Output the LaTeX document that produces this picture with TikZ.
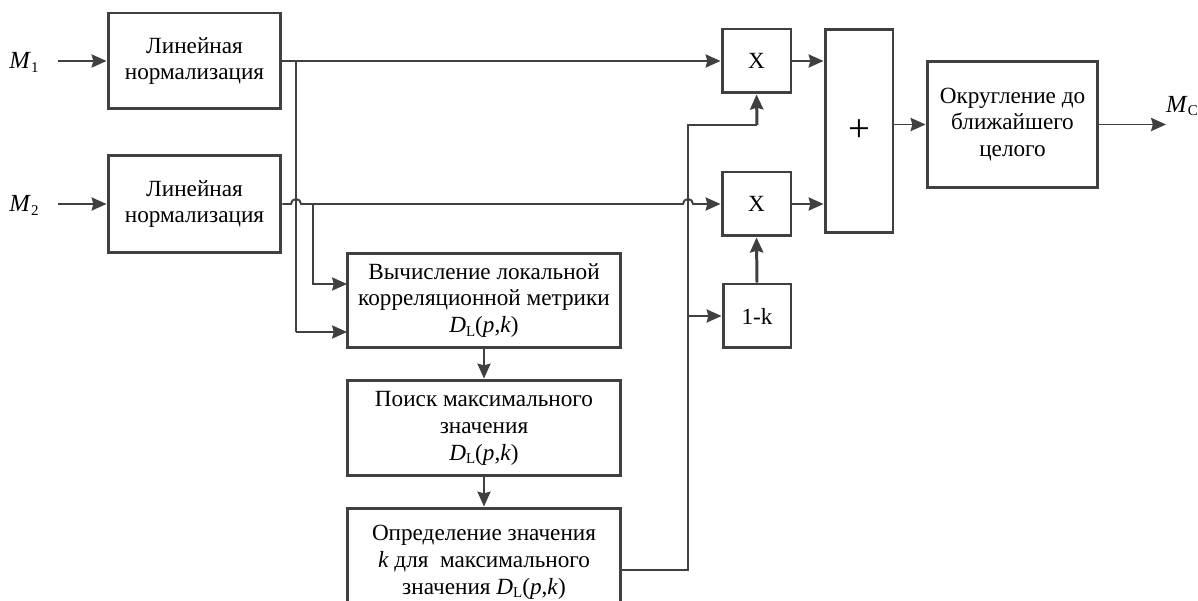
\documentclass[tikz,border=0pt]{standalone}
\usepackage{fontspec}
\setmainfont{Liberation Serif}
\usetikzlibrary{arrows.meta}
\definecolor{ln}{HTML}{404040}
\newcommand{\lsub}[1]{\raisebox{-0.35ex}{\fontsize{8.5}{9}\selectfont #1}}
\newcommand{\DL}{\textit{D}\lsub{L}(\textit{p},\textit{k})}
\tikzset{
  blk/.style={draw=ln, line width=1.7pt, fill=white, align=center, inner sep=0pt,
    font=\fontsize{13.2}{15.3}\selectfont},
  conn/.style={draw=ln, line width=1.1pt},
  arr/.style={conn, -{Stealth[length=8.5pt,width=7.5pt,inset=1pt]}},
  arrb/.style={draw=ln, line width=1.7pt, -{Stealth[length=8.5pt,width=7.5pt,inset=1pt]}},
  lbl/.style={font=\fontsize{14}{15}\selectfont, inner sep=0pt}
}
\begin{document}
\begin{tikzpicture}[x=0.02cm,y=-0.02cm]
\useasboundingbox (0,0) rectangle (1198,601);
\clip (0,0) rectangle (1198,601);
\fill[white] (0,0) rectangle (1198,601);
% blocks
\node[blk, minimum width=3.46cm, minimum height=1.92cm] (n1) at (194.5,61) {Линейная\\нормализация};
\node[blk, minimum width=3.46cm, minimum height=1.96cm] (n2) at (194.5,204) {Линейная\\нормализация};
\node[blk, minimum width=5.48cm, minimum height=1.90cm] (comp) at (484,300.5) {Вычисление локальной\\корреляционной метрики\\\DL};
\node[blk, minimum width=5.48cm, minimum height=1.92cm] (srch) at (484,428) {Поиск максимального\\значения\\\DL};
\node[blk, minimum width=5.48cm, minimum height=2.16cm] (kdet) at (484,562) {Определение значения\\\textit{k} для \ максимального\\значения \DL};
\node[blk, minimum width=1.38cm, minimum height=1.28cm] (x1) at (756.5,61) {X};
\node[blk, minimum width=1.38cm, minimum height=1.28cm] (x2) at (756.5,204) {X};
\node[blk, minimum width=1.36cm, minimum height=1.28cm] (onek) at (757,316) {1-k};
\node[blk, minimum width=1.36cm, minimum height=4.08cm, font=\fontsize{22}{22}\selectfont] (plus) at (859,131) {+};
\node[blk, minimum width=3.42cm, minimum height=2.54cm] (rnd) at (1012.5,124.5) {Округление до\\ближайшего\\целого};
% labels
\node[lbl] (m1) at (24,62) {\textit{M}\lsub{1}};
\node[lbl] (m2) at (24,205) {\textit{M}\lsub{2}};
\node[lbl] (mc) at (1182,106) {\textit{M}\lsub{C}};
% coordinates
\coordinate (m1s) at (58,61);
\coordinate (m2s) at (58,204);
\coordinate (mce) at (1166,124.5);
\coordinate (v1) at (296,61);
\coordinate (v1b) at (296,332);
\coordinate (c1) at (347,332);
\coordinate (b2) at (313,204);
\coordinate (c2) at (347,284);
\coordinate (h1) at (291,204);
\coordinate (h2) at (683,204);
\coordinate (k1) at (688,570);
\coordinate (k2) at (688,125);
\coordinate (k3) at (757,125);
\coordinate (kb) at (688,316);
% connectors
\draw[arr] (m1s) -- (n1.west);
\draw[arr] (m2s) -- (n2.west);
\draw[arr] (n1.east) -- (x1.west);
\draw[conn] (v1) -- (v1b);
\draw[arr] (v1b) -- (c1);
\draw[arr] (n2.east) -- (h1) arc[start angle=180,end angle=0,radius=2.85pt]
   -- (h2) arc[start angle=180,end angle=0,radius=2.85pt] -- (x2.west);
\draw[arr] (b2) |- (c2);
\draw[arr] (comp.south) -- (srch.north);
\draw[arr] (srch.south) -- (kdet.north);
\draw[conn] (kdet.east |- k1) -- (k1) -- (k2) -- (k3);
\draw[arrb] (k3) -- (x1.south);
\draw[arr] (kb) -- (onek.west);
\draw[arrb] (onek.north) -- (x2.south);
\draw[arr] (x1.east) -- (plus.west |- x1.east);
\draw[arr] (x2.east) -- (plus.west |- x2.east);
\draw[arr] (plus.east |- rnd.west) -- (rnd.west);
\draw[arr] (rnd.east) -- (mce);
\end{tikzpicture}
\end{document}
